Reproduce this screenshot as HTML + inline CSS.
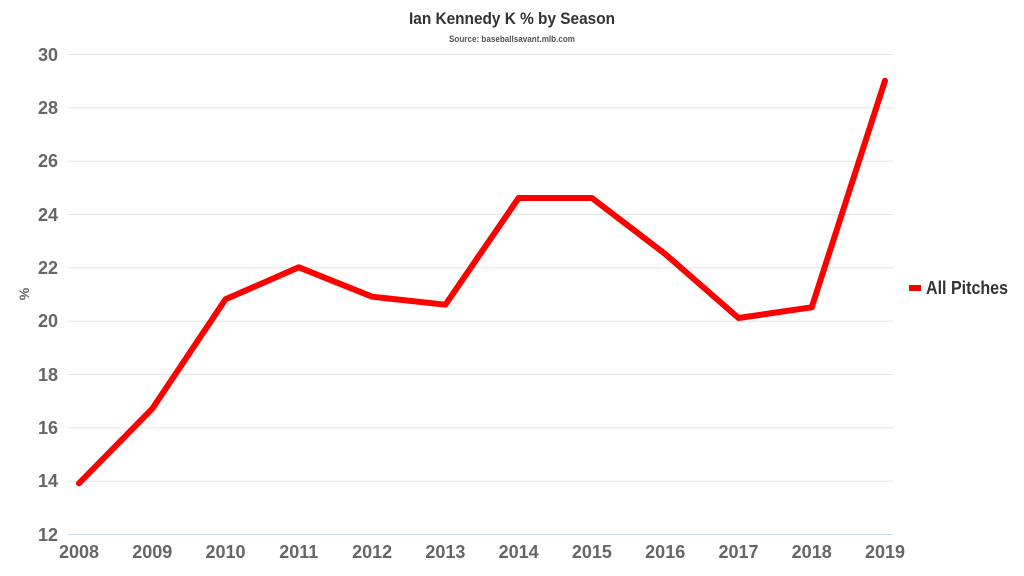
<!DOCTYPE html>
<html><head><meta charset="utf-8"><style>
html,body{margin:0;padding:0;background:#fff;}
svg{display:block;}
text{font-family:"Liberation Sans Narrow","Liberation Sans",sans-serif;font-weight:bold;}
</style></head><body>
<svg width="1024" height="576" viewBox="0 0 1024 576" xmlns="http://www.w3.org/2000/svg">
<rect width="1024" height="576" fill="#fff"/>
<text x="409" y="24" font-size="17" fill="#333" textLength="206" lengthAdjust="spacingAndGlyphs">Ian Kennedy K % by Season</text>
<text x="449" y="42" font-size="9" fill="#555" textLength="126" lengthAdjust="spacingAndGlyphs">Source: baseballsavant.mlb.com</text>
<g stroke="#e6e6e6" stroke-width="1">
<line x1="68" x2="893" y1="54.5" y2="54.5"/>
<line x1="68" x2="893" y1="107.8" y2="107.8"/>
<line x1="68" x2="893" y1="161.2" y2="161.2"/>
<line x1="68" x2="893" y1="214.5" y2="214.5"/>
<line x1="68" x2="893" y1="267.8" y2="267.8"/>
<line x1="68" x2="893" y1="321.2" y2="321.2"/>
<line x1="68" x2="893" y1="374.5" y2="374.5"/>
<line x1="68" x2="893" y1="427.8" y2="427.8"/>
<line x1="68" x2="893" y1="481.2" y2="481.2"/>
</g>
<line x1="68" x2="893" y1="534.5" y2="534.5" stroke="#ccd6eb" stroke-width="1"/>
<g font-size="18" fill="#666" text-anchor="end">
<text x="58" y="61">30</text><text x="58" y="114">28</text><text x="58" y="167">26</text>
<text x="58" y="221">24</text><text x="58" y="274">22</text><text x="58" y="327">20</text>
<text x="58" y="381">18</text><text x="58" y="434">16</text><text x="58" y="487">14</text>
<text x="58" y="541">12</text>
</g>
<text transform="translate(29,294) rotate(-90)" text-anchor="middle" font-size="14" fill="#666">%</text>
<g font-size="18" fill="#666" text-anchor="middle">
<text x="79" y="558">2008</text><text x="152.3" y="558">2009</text><text x="225.5" y="558">2010</text>
<text x="298.8" y="558">2011</text><text x="372.1" y="558">2012</text><text x="445.4" y="558">2013</text>
<text x="518.6" y="558">2014</text><text x="591.9" y="558">2015</text><text x="665.2" y="558">2016</text>
<text x="738.5" y="558">2017</text><text x="811.7" y="558">2018</text><text x="885" y="558">2019</text>
</g>
<polyline fill="none" stroke="#ff0000" stroke-width="6" stroke-linejoin="round" stroke-linecap="round"
points="79,483.3 152.3,408.7 225.5,299.3 298.8,267.3 372.1,296.7 445.4,304.7 518.6,198 591.9,198 665.2,254 738.5,318 811.7,307.3 885,80.7"/>
<line x1="909" x2="921" y1="288" y2="288" stroke="#ff0000" stroke-width="6"/>
<text x="926" y="294" font-size="18" fill="#333" textLength="82" lengthAdjust="spacingAndGlyphs">All Pitches</text>
</svg>
</body></html>
